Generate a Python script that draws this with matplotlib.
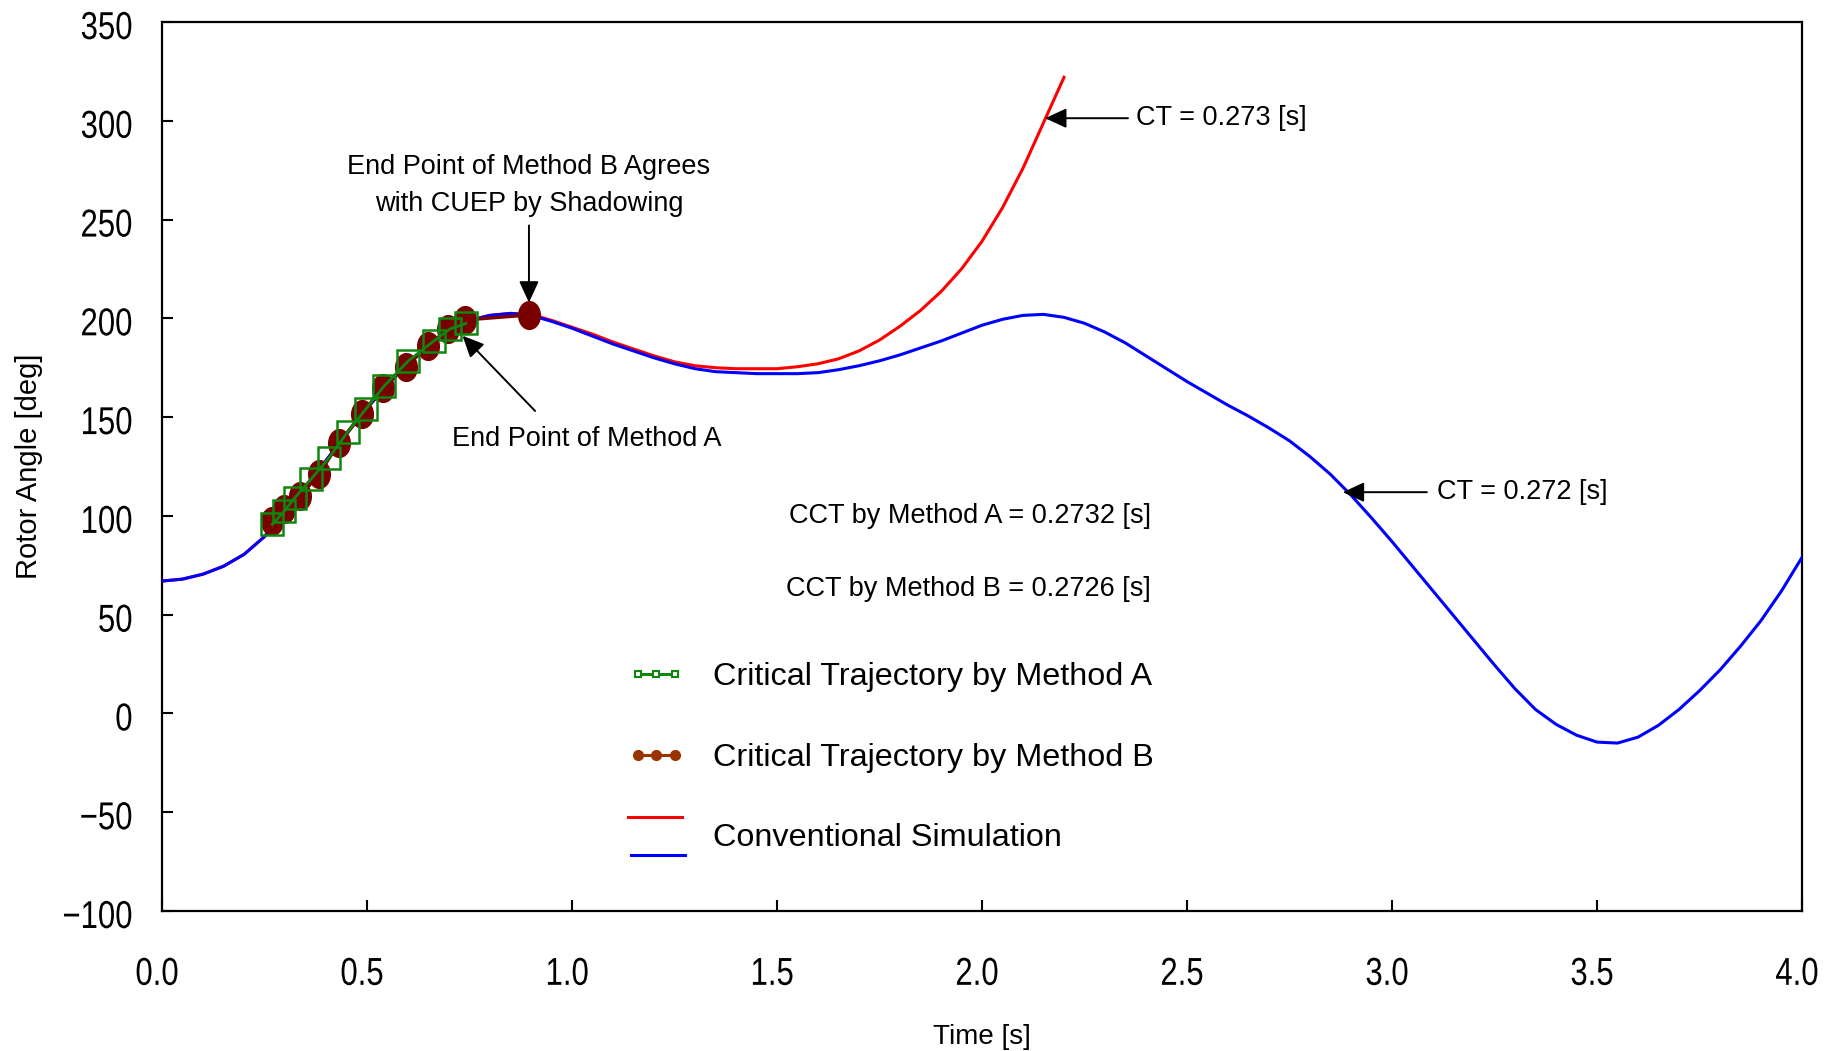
import numpy as np
import matplotlib
matplotlib.use("Agg")
import matplotlib.pyplot as plt
from matplotlib.lines import Line2D
from matplotlib.path import Path
from matplotlib.transforms import Affine2D, ScaledTranslation
from matplotlib.legend_handler import HandlerBase
from matplotlib.patheffects import AbstractPathEffect
from matplotlib import font_manager

# ---------------- data ----------------
time_blue = [0.00, 0.05, 0.10, 0.15, 0.20, 0.25, 0.30, 0.35, 0.40, 0.45, 0.50, 0.55,
             0.60, 0.65, 0.70, 0.75, 0.80, 0.85, 0.90, 0.95, 1.00, 1.05, 1.10, 1.15,
             1.20, 1.25, 1.30, 1.35, 1.40, 1.45, 1.50, 1.55, 1.60, 1.65, 1.70, 1.75,
             1.80, 1.85, 1.90, 1.95, 2.00, 2.05, 2.10, 2.15, 2.20, 2.25, 2.30, 2.35,
             2.40, 2.45, 2.50, 2.55, 2.60, 2.65, 2.70, 2.75, 2.80, 2.85, 2.90, 2.95,
             3.00, 3.05, 3.10, 3.15, 3.20, 3.25, 3.30, 3.35, 3.40, 3.45, 3.50, 3.55,
             3.60, 3.65, 3.70, 3.75, 3.80, 3.85, 3.90, 3.95, 4.00]
angle_blue = [67, 68, 70.5, 74.5, 80.5, 89.5, 103, 115, 128, 141.5, 154.5, 166.5,
              177.5, 186.5, 194, 199, 201.5, 202.5, 201.5, 198.5, 195, 191, 187, 183.5,
              180, 177, 174.5, 173, 172.5, 172, 172, 172, 172.5, 174, 176, 178.5,
              181.5, 185, 188.5, 192.5, 196.5, 199.5, 201.5, 202, 200.5, 197.5, 193, 187.5,
              181, 174.5, 168, 162, 156, 150.5, 144.5, 138, 130, 121, 110.5, 99,
              87, 74.5, 62, 49.5, 37, 24.5, 12.5, 2, -5.5, -11, -14.5, -15,
              -12, -6, 2, 11.5, 22, 34, 47, 62, 79]

time_red = [0.00, 0.05, 0.10, 0.15, 0.20, 0.25, 0.30, 0.35, 0.40, 0.45, 0.50, 0.55,
            0.60, 0.65, 0.70, 0.75, 0.80, 0.85, 0.90, 0.95, 1.00, 1.05, 1.10, 1.15,
            1.20, 1.25, 1.30, 1.35, 1.40, 1.45, 1.50, 1.55, 1.60, 1.65, 1.70, 1.75,
            1.80, 1.85, 1.90, 1.95, 2.00, 2.05, 2.10, 2.15, 2.20]
angle_red = [67, 68, 70.5, 74.5, 80.5, 89.5, 103, 115, 128, 141.5, 154.5, 166.5,
             177.5, 186.5, 194, 199, 201.5, 202.5, 202, 199, 195.5, 192, 188, 184.5,
             181, 178, 176, 175, 174.5, 174.5, 174.5, 175.5, 177, 179.5, 183.5, 189,
             196, 204, 213.5, 225, 239, 256, 276, 299, 322]

methodA_t = [0.269, 0.298, 0.324, 0.363, 0.408, 0.453, 0.498, 0.542, 0.601, 0.664, 0.702, 0.741]
methodA_deg = [95.7, 102.4, 109.2, 118.5, 129.5, 142.6, 154.3, 165.8, 178.5, 188.7, 194.6, 197.4]

methodB_t = [0.269, 0.298, 0.337, 0.383, 0.432, 0.487, 0.538, 0.594, 0.648, 0.697, 0.739, 0.894]
methodB_deg = [97.3, 103.3, 110.0, 121.3, 137.0, 151.5, 164.7, 175.5, 185.8, 194.6, 199.2, 201.7]

x_ticks = [0.0, 0.5, 1.0, 1.5, 2.0, 2.5, 3.0, 3.5, 4.0]
x_tick_labels = ["0.0", "0.5", "1.0", "1.5", "2.0", "2.5", "3.0", "3.5", "4.0"]
y_ticks = [-100, -50, 0, 50, 100, 150, 200, 250, 300, 350]

# ---------------- fonts ----------------
names = {f.name for f in font_manager.fontManager.ttflist}
TEXT_FONT = "Liberation Sans" if "Liberation Sans" in names else "DejaVu Sans"
plt.rcParams["font.family"] = [TEXT_FONT, "DejaVu Sans"]
TICK_SIZE = 28


class Condense(AbstractPathEffect):
    """Squeeze glyphs horizontally around the text's alignment anchor."""

    def __init__(self, sx, anchor):
        super().__init__()
        self.sx = sx
        self.anchor = anchor

    def draw_path(self, renderer, gc, tpath, affine, rgbFace=None):
        ext = tpath.get_extents()
        if self.anchor == "right":
            cx = ext.x1
        else:
            cx = 0.5 * (ext.x0 + ext.x1)
        a = Affine2D().translate(-cx, 0).scale(self.sx, 1.0).translate(cx, 0) + affine
        renderer.draw_path(gc, tpath, a, rgbFace)


# ---------------- figure ----------------
W, H = 1827, 1051
fig = plt.figure(figsize=(W / 100, H / 100), dpi=100)
ax = fig.add_axes([162 / W, 1 - 911 / H, (1802 - 162) / W, (911 - 22) / H])

RED = "#ff0000"
BLUE = "#0000ff"
GREEN = "#0f870f"
MAROON = "#7a0000"

red_line, = ax.plot(time_red, angle_red, color=RED, lw=2.2, zorder=2)
blue_line, = ax.plot(time_blue, angle_blue, color=BLUE, lw=2.2, zorder=3)

ellipse = Path.unit_circle().transformed(Affine2D().scale(0.78, 1.0))
ax.plot(methodB_t, methodB_deg, color=MAROON, lw=2.5, marker=ellipse,
        markersize=20, markerfacecolor=MAROON, markeredgecolor=MAROON, zorder=4)
ax.plot(methodA_t, methodA_deg, color=GREEN, lw=2.0, marker="s", markersize=16,
        markerfacecolor="none", markeredgecolor=GREEN, markeredgewidth=1.8, zorder=5)

ax.set_xlim(0, 4)
ax.set_ylim(-100, 350)
ax.set_xticks(x_ticks)
ax.set_xticklabels(x_tick_labels)
ax.set_yticks(y_ticks)

for s in ax.spines.values():
    s.set_linewidth(1.6)
ax.tick_params(axis="both", direction="in", length=8, width=1.5,
               top=False, right=False, labelsize=TICK_SIZE)
ax.tick_params(axis="x", pad=33)
ax.tick_params(axis="y", pad=21)
for lab in ax.get_xticklabels():
    lab.set_transform(lab.get_transform() + ScaledTranslation(-5 / 100, 0, fig.dpi_scale_trans))
    lab.set_path_effects([Condense(0.8, "center")])
for lab in ax.get_yticklabels():
    lab.set_transform(lab.get_transform() + ScaledTranslation(0, -3 / 100, fig.dpi_scale_trans))
    lab.set_path_effects([Condense(0.8, "right")])

ax.set_xlabel("Time [s]", fontsize=20)
ax.set_ylabel("Rotor Angle [deg]", fontsize=21)
ax.xaxis.set_label_coords(0.5, (911 - 1037) / 889)
ax.xaxis.label.set_va("center")
ax.yaxis.set_label_coords((29 - 162) / 1640, 0.5)
ax.yaxis.label.set_va("center")
ax.yaxis.label.set_ha("center")

# ---------------- annotations ----------------
arrow = dict(arrowstyle="-|>,head_length=0.65,head_width=0.3", color="black",
             lw=1.4, shrinkA=0, shrinkB=0, mutation_scale=20)
TXT = 19.5

ax.annotate("", xy=(0.895, 208), xytext=(0.895, 247), arrowprops=arrow)
ax.text(0.895, 267, "End Point of Method B Agrees\nwith CUEP by Shadowing",
        ha="center", va="center", fontsize=TXT, linespacing=1.55)

ax.annotate("", xy=(0.733, 191.2), xytext=(0.910, 153.1), arrowprops=arrow)
ax.text(1.037, 139, "End Point of Method A", ha="center", va="center", fontsize=TXT)

ax.annotate("", xy=(2.154, 301.3), xytext=(2.356, 301.3), arrowprops=arrow)
ax.text(2.376, 301.3, "CT = 0.273 [s]", ha="left", va="center", fontsize=TXT)

ax.annotate("", xy=(2.880, 112.0), xytext=(3.085, 112.0), arrowprops=arrow)
ax.text(3.110, 112.0, "CT = 0.272 [s]", ha="left", va="center", fontsize=TXT)

ax.text(2.412, 99.9, "CCT by Method A = 0.2732 [s]", ha="right", va="center", fontsize=TXT)
ax.text(2.412, 63.0, "CCT by Method B = 0.2726 [s]", ha="right", va="center", fontsize=TXT)

# ---------------- legend ----------------
class TwoLineHandler(HandlerBase):
    def create_artists(self, legend, orig_handle, xdescent, ydescent, width,
                       height, fontsize, trans):
        ymid = height / 2 - ydescent
        top, bot = orig_handle
        l1 = Line2D([-xdescent, -xdescent + width - 2], [ymid + 13.0] * 2,
                    color=top.get_color(), lw=2.2, transform=trans)
        l2 = Line2D([-xdescent + 2, -xdescent + width], [ymid - 14.3] * 2,
                    color=bot.get_color(), lw=2.2, transform=trans)
        return [l1, l2]

hA = Line2D([], [], color=GREEN, lw=2.2, marker="s", markersize=5,
            markerfacecolor="white", markeredgecolor=GREEN, markeredgewidth=1.5)
hB = Line2D([], [], color="#993300", lw=2.2, marker="o", markersize=7,
            markerfacecolor="#993300", markeredgecolor="#993300")
leg = ax.legend([hA, hB, (red_line, blue_line)],
                ["Critical Trajectory by Method A", "Critical Trajectory by Method B",
                 "Conventional Simulation"],
                handler_map={tuple: TwoLineHandler()},
                loc="upper left", bbox_to_anchor=((628 - 162) / 1640, (911 - 662.5) / 889),
                frameon=False, borderpad=0, borderaxespad=0, fontsize=23.3,
                numpoints=3, handlelength=1.75, handletextpad=0.89, labelspacing=1.56)

fig.savefig("out.png", dpi=100)
